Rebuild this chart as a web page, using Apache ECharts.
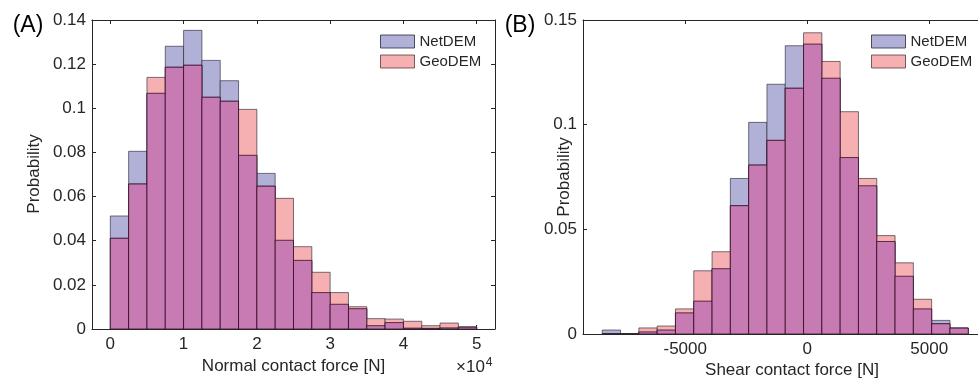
<!DOCTYPE html>
<html><head><meta charset="utf-8">
<script src="https://cdn.jsdelivr.net/npm/echarts@6/dist/echarts.min.js"></script>
<style>html,body{margin:0;padding:0;background:#fff}#c{width:978px;height:381px}</style>
</head><body><div id="c"></div>
<script>
// ---- data ----
const leftEdges = [0, 2500, 5000, 7500, 10000, 12500, 15000, 17500, 20000, 22500, 25000, 27500, 30000, 32500, 35000, 37500, 40000, 42500, 45000, 47500, 50000];
const leftNet = [0.0512, 0.0805, 0.1068, 0.1281, 0.1353, 0.1217, 0.1125, 0.0787, 0.0705, 0.0402, 0.0311, 0.0165, 0.0112, 0.0092, 0.0015, 0.0029, 0.0004, 0.0003, 0.0005, 0.0008];
const leftGeo = [0.0411, 0.0657, 0.1140, 0.1186, 0.1195, 0.1050, 0.1032, 0.0995, 0.0647, 0.0592, 0.0373, 0.0257, 0.0165, 0.0101, 0.0047, 0.0045, 0.0035, 0.0015, 0.0027, 0.0010];
const rightEdges = [-8400, -7650, -6900, -6150, -5400, -4650, -3900, -3150, -2400, -1650, -900, -150, 600, 1350, 2100, 2850, 3600, 4350, 5100, 5850, 6600];
const rightNet = [0.0019, 0, 0.0010, 0.0019, 0.0101, 0.0157, 0.0312, 0.0743, 0.1011, 0.1193, 0.1377, 0.1385, 0.1222, 0.0843, 0.0708, 0.0442, 0.0276, 0.0120, 0.0065, 0.0029];
const rightGeo = [0, 0, 0.0029, 0.0038, 0.0120, 0.0302, 0.0393, 0.0613, 0.0807, 0.0925, 0.1174, 0.1439, 0.1302, 0.1062, 0.0743, 0.0470, 0.0340, 0.0166, 0.0049, 0.0028];
const leftXTicks = [0, 10000, 20000, 30000, 40000, 50000];
const leftYTicks = [0, 0.02, 0.04, 0.06, 0.08, 0.1, 0.12, 0.14];
const rightXTicks = [-5000, 0, 5000];
const rightYTicks = [0, 0.05, 0.1, 0.15];
const seriesNames = ['NetDEM', 'GeoDEM'];

// ---- styles ----
const FONT = '"Liberation Sans", Arial, Helvetica, sans-serif';
const TXT = '#262626';
const FS = 17;
const netFill = '#b1b1d7', geoFill = '#f7b0b2', overlapFill = '#c77bb2';
const outerStroke = 'rgba(30,30,45,0.6)', innerStroke = 'rgba(45,5,30,0.75)';

function binData(edges, vals) { return vals.map((v, i) => [edges[i], edges[i + 1], v]); }
function minData(edges, a, b) { return a.map((v, i) => [edges[i], edges[i + 1], Math.min(v, b[i])]); }
function makeRender(fill, stroke) {
  return function (params, api) {
    const p0 = api.coord([api.value(0), api.value(2)]);
    const p1 = api.coord([api.value(1), 0]);
    return { type: 'rect', shape: { x: p0[0], y: p0[1], width: p1[0] - p0[0], height: p1[1] - p0[1] },
      style: { fill: fill, stroke: stroke, lineWidth: 1 } };
  };
}
function barSeries(name, idx, data, fill, stroke) {
  return { type: 'custom', name: name, xAxisIndex: idx * 2, yAxisIndex: idx * 2, data: data,
    encode: { x: [0, 1], y: 2 }, renderItem: makeRender(fill, stroke), clip: true,
    itemStyle: { color: fill, borderColor: stroke, borderWidth: 1 }, silent: true };
}
function xAx(grid, min, max, ticks, fmt, name, pos, labels) {
  return { type: 'value', gridIndex: grid, min: min, max: max, position: pos,
    axisLine: { show: true, onZero: false, lineStyle: { color: TXT, width: 1 } },
    axisTick: { show: true, inside: true, length: 4, customValues: ticks, lineStyle: { color: TXT } },
    axisLabel: { show: labels, customValues: ticks, formatter: fmt, margin: 7, color: TXT, fontSize: FS, fontFamily: FONT },
    splitLine: { show: false },
    name: name, nameLocation: 'middle', nameGap: 28,
    nameTextStyle: { color: TXT, fontSize: FS, fontFamily: FONT } };
}
function yAx(grid, min, max, ticks, pos, labels, show) {
  return { type: 'value', gridIndex: grid, min: min, max: max, position: pos, show: show,
    axisLine: { show: true, onZero: false, lineStyle: { color: TXT, width: 1 } },
    axisTick: { show: true, inside: true, length: 4, customValues: ticks, lineStyle: { color: TXT } },
    axisLabel: { show: labels, customValues: ticks, formatter: v => String(+v.toFixed(4)), margin: 6, color: TXT, fontSize: FS, fontFamily: FONT },
    splitLine: { show: false } };
}
function legendAt(left) {
  return { left: left, top: 34, orient: 'vertical', itemWidth: 34, itemHeight: 13, itemGap: 5, padding: 0,
    icon: 'rect', selectedMode: false,
    textStyle: { fontSize: 15, fontFamily: FONT, color: TXT, lineHeight: 13 },
    data: [
      { name: seriesNames[0], itemStyle: { color: netFill, borderColor: 'rgba(40,40,60,0.8)', borderWidth: 1 } },
      { name: seriesNames[1], itemStyle: { color: geoFill, borderColor: 'rgba(60,40,40,0.7)', borderWidth: 1 } }
    ] };
}

const chart = echarts.init(document.getElementById('c'), null, { renderer: 'canvas' });
chart.setOption({
  animation: false,
  backgroundColor: '#fff',
  grid: [
    { left: 92, top: 20, width: 403, height: 309 },
    { left: 583, top: 20, width: 395, height: 314 }
  ],
  xAxis: [
    xAx(0, -2500, 52500, leftXTicks, v => String(v / 10000), 'Normal contact force [N]', 'bottom', true),
    xAx(0, -2500, 52500, leftXTicks, v => '', '', 'top', false),
    xAx(1, -9190, 7000, rightXTicks, v => String(v), '', 'bottom', true),
    xAx(1, -9190, 7000, rightXTicks, v => '', '', 'top', false)
  ],
  yAxis: [
    yAx(0, 0, 0.14, leftYTicks, 'left', true, true),
    yAx(0, 0, 0.14, leftYTicks, 'right', false, true),
    yAx(1, 0, 0.15, rightYTicks, 'left', true, true),
    yAx(1, 0, 0.15, rightYTicks, 'right', false, false)
  ],
  legend: [legendAt(380), legendAt(871)],
  series: [
    barSeries(seriesNames[0], 0, binData(leftEdges, leftNet), netFill, outerStroke),
    barSeries(seriesNames[1], 0, binData(leftEdges, leftGeo), geoFill, outerStroke),
    barSeries('overlapA', 0, minData(leftEdges, leftNet, leftGeo), overlapFill, innerStroke),
    barSeries(seriesNames[0], 1, binData(rightEdges, rightNet), netFill, outerStroke),
    barSeries(seriesNames[1], 1, binData(rightEdges, rightGeo), geoFill, outerStroke),
    barSeries('overlapB', 1, minData(rightEdges, rightNet, rightGeo), overlapFill, innerStroke)
  ],
  graphic: [
    { type: 'text', x: 28, y: 26, style: { text: '(A)', fill: '#000', fontSize: 23, fontFamily: FONT, align: 'center', verticalAlign: 'middle' } },
    { type: 'text', x: 520, y: 26, style: { text: '(B)', fill: '#000', fontSize: 23, fontFamily: FONT, align: 'center', verticalAlign: 'middle' } },
    { type: 'text', x: 34, y: 174, rotation: Math.PI / 2, style: { text: 'Probability', fill: TXT, fontSize: FS, fontFamily: FONT, align: 'center', verticalAlign: 'middle' } },
    { type: 'text', x: 564, y: 177, rotation: Math.PI / 2, style: { text: 'Probability', fill: TXT, fontSize: FS, fontFamily: FONT, align: 'center', verticalAlign: 'middle' } },
    { type: 'text', x: 792, y: 370, style: { text: 'Shear contact force [N]', fill: TXT, fontSize: FS, fontFamily: FONT, align: 'center', verticalAlign: 'middle' } },
    { type: 'text', x: 456, y: 377, style: { text: '×10{s|4}', fill: TXT, fontSize: FS, fontFamily: FONT, align: 'left', verticalAlign: 'bottom',
      rich: { s: { fontSize: 12, fontFamily: FONT, fill: TXT, verticalAlign: 'top', padding: [0, 0, 8, 1] } } } }
  ]
});
</script></body></html>
